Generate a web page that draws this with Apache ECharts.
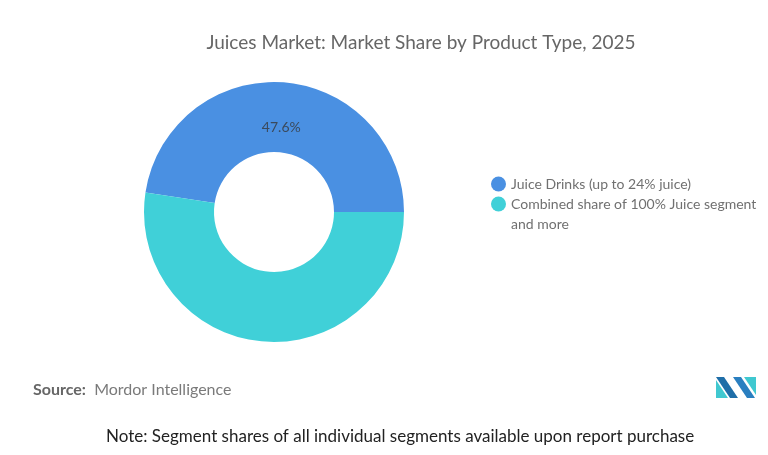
<!DOCTYPE html>
<html>
<head>
<meta charset="utf-8">
<script src="https://cdn.jsdelivr.net/npm/echarts@6/dist/echarts.min.js"></script>
<style>html,body{margin:0;padding:0;background:#fff;}#c{width:768px;height:455px;}</style>
</head>
<body>
<div id="c"></div>
<script>
var categories = ['Juice Drinks (up to 24% juice)', 'Combined share of 100% Juice segment and more'];
var legendLines = [['Juice Drinks (up to 24% juice)'], ['Combined share of 100% Juice segment', 'and more']];
var shareValues = [47.6, 52.4];
var showLabel = [true, false];
var colors = ['#4A90E2', '#40D0D8'];

var chart = echarts.init(document.getElementById('c'));
var F = 'Lato, "Open Sans", sans-serif';
var data = categories.map(function (n, i) {
  return { name: n, value: shareValues[i], itemStyle: { color: colors[i] }, label: { show: showLabel[i] } };
});
chart.setOption({
  animation: false,
  title: {
    text: 'Juices Market: Market Share by Product Type, 2025',
    left: 416, top: 28, textAlign: 'center',
    textStyle: { fontFamily: F, fontSize: 19, fontWeight: 'normal', color: '#666666' }
  },
  legend: {
    orient: 'vertical', left: 486, top: 169,
    icon: 'circle', itemWidth: 15, itemHeight: 15, itemGap: -20,
    formatter: function (n) {
      var lines = legendLines[categories.indexOf(n)];
      if (lines.length === 1) return '{a|' + lines[0] + '}';
      // pad with an empty line above so the marker lines up with the first text line
      return '{a| }\n' + lines.map(function (l) { return '{a|' + l + '}'; }).join('\n');
    },
    textStyle: { fontFamily: F, fontSize: 14, color: '#707070', lineHeight: 20,
      rich: { a: { fontFamily: F, fontSize: 14, color: '#707070', lineHeight: 20 } } }
  },
  series: [{
    type: 'pie',
    center: [274, 212],
    radius: [60, 130],
    startAngle: 171.4,
    clockwise: true,
    silent: true,
    label: { position: 'inside', formatter: '{p| }\n{v|{c}%}', fontFamily: F, fontSize: 14, color: '#3b4a5c',
      rich: { p: { lineHeight: 26, fontSize: 14 }, v: { fontFamily: F, fontSize: 14, color: '#3b4a5c', lineHeight: 17 } } },
    labelLine: { show: false },
    data: data
  }],
  graphic: [
    { type: 'text', left: 33, top: 382, style: { text: '{b|Source:}  Mordor Intelligence', fontFamily: F, fontSize: 16, fill: '#7a7a7a',
      rich: { b: { fontFamily: F, fontSize: 16, fontWeight: 'bold', fill: '#666666' } } } },
    { type: 'text', left: 106, top: 428, style: { text: 'Note: Segment shares of all individual segments available upon report purchase', fontFamily: F, fontSize: 17, fill: '#222222' } },
    { type: 'polygon', shape: { points: [[716,377],[724,377],[738,398],[730,398]] }, style: { fill: '#1f6ea8' } },
    { type: 'polygon', shape: { points: [[716,380],[728,398],[716,398]] }, style: { fill: '#40C8D0' } },
    { type: 'polygon', shape: { points: [[733,377],[741,377],[755,398],[747,398]] }, style: { fill: '#2a7fc0' } },
    { type: 'polygon', shape: { points: [[744,377],[756,377],[756,395]] }, style: { fill: '#40C8D0' } }
  ]
});
</script>
</body>
</html>
